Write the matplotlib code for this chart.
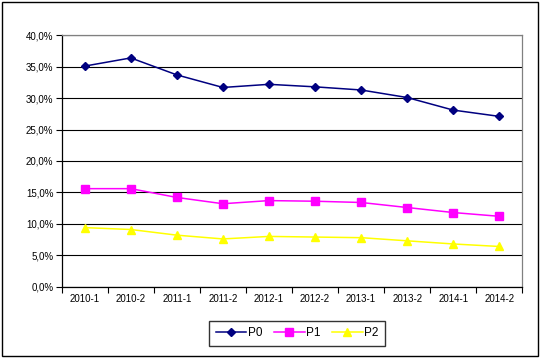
import matplotlib
matplotlib.use('Agg')
import matplotlib.pyplot as plt
from matplotlib.patches import Rectangle
from matplotlib.ticker import FuncFormatter, FixedLocator
import numpy as np

plt.rcParams['font.family'] = ['Liberation Sans', 'DejaVu Sans']

periods = ['2010-1', '2010-2', '2011-1', '2011-2', '2012-1',
           '2012-2', '2013-1', '2013-2', '2014-1', '2014-2']
p0 = [35.1, 36.4, 33.7, 31.7, 32.2, 31.8, 31.3, 30.1, 28.1, 27.1]
p1 = [15.6, 15.6, 14.2, 13.2, 13.7, 13.6, 13.4, 12.6, 11.8, 11.2]
p2 = [9.4, 9.1, 8.2, 7.6, 8.0, 7.9, 7.8, 7.3, 6.8, 6.4]

W, H = 541, 359
fig = plt.figure(figsize=(W / 100, H / 100), dpi=100)
ax = fig.add_axes([61.7 / W, 1 - 286.7 / H, (522.3 - 61.7) / W, (286.7 - 35.3) / H])

x = np.arange(len(periods))
ax.plot(x, p0, color='#000080', marker='D', markersize=4.5, lw=1.1, label='P0', zorder=3)
ax.plot(x, p1, color='#FF00FF', marker='s', markersize=6, lw=1.1, label='P1', zorder=3)
ax.plot(x, p2, color='#FFFF00', marker='^', markersize=6, lw=1.1, label='P2', zorder=3)

ax.set_xlim(-0.5, len(periods) - 0.5)
ax.set_ylim(0, 40)
ax.set_yticks(np.arange(0, 41, 5))
ax.yaxis.set_major_formatter(FuncFormatter(lambda v, _: f'{v:.1f}%'.replace('.', ',')))
ax.set_xticks(x)
ax.set_xticklabels(periods)
ax.xaxis.set_minor_locator(FixedLocator(np.arange(-0.5, len(periods), 1.0)))
ax.tick_params(axis='x', which='major', length=0, labelsize=7, pad=5)
ax.tick_params(axis='x', which='minor', length=4, width=0.8, color='black')
ax.tick_params(axis='y', length=4, width=0.8, labelsize=7, pad=2)

ax.yaxis.grid(True, color='black', lw=0.8)
ax.set_axisbelow(True)
for s in ['top', 'right']:
    ax.spines[s].set_color('#808080')
    ax.spines[s].set_linewidth(0.9)
for s in ['left', 'bottom']:
    ax.spines[s].set_color('black')
    ax.spines[s].set_linewidth(0.9)

leg = fig.legend(loc='center', bbox_to_anchor=(297 / W, 1 - 333.3 / H), ncol=3,
                 fontsize=8.5, frameon=True, fancybox=False, handlelength=2.6,
                 columnspacing=1.0, handletextpad=0.1, borderpad=0.55)
leg.get_frame().set_edgecolor('black')
leg.get_frame().set_linewidth(1.0)

fig.patches.append(Rectangle((1.7 / W, 1 - 355.7 / H), (538.3 - 1.7) / W, (355.7 - 1.7) / H,
                             transform=fig.transFigure, fill=False,
                             edgecolor='black', lw=1.0))

fig.savefig('out.png', dpi=100)
